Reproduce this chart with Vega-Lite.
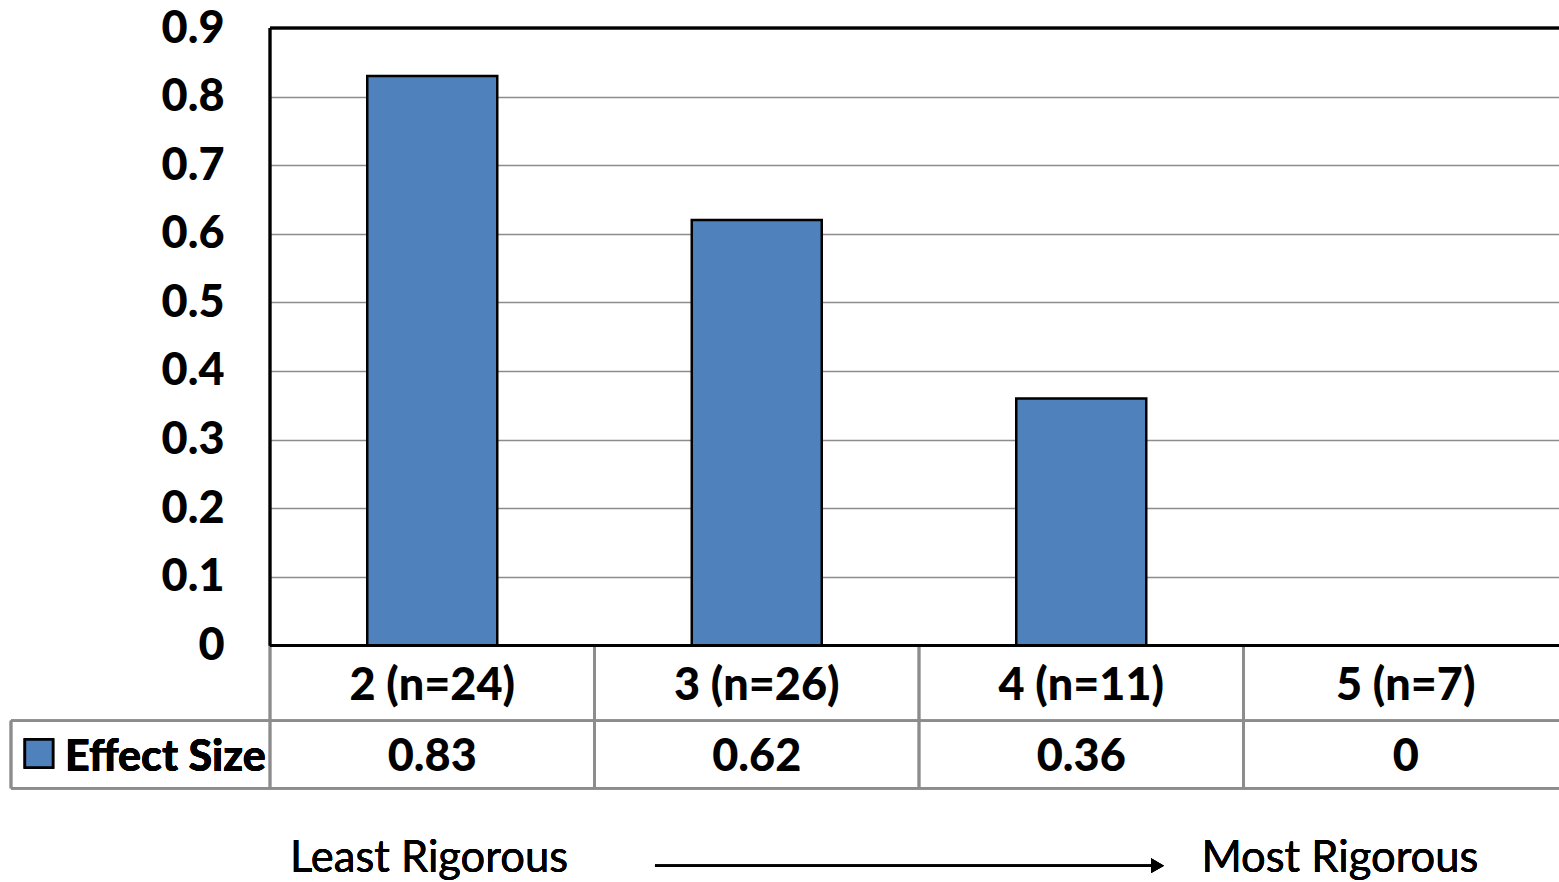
{
  "$schema": "https://vega.github.io/schema/vega-lite/v6.json",
  "width": 1289,
  "height": 854,
  "autosize": {"type": "none"},
  "padding": {"left": 270, "top": 28, "right": 0, "bottom": 0},
  "background": "white",
  "config": {"view": {"stroke": null}},
  "data": {"values": [
    {"level": 2, "label": "2 (n=24)", "effect": 0.83},
    {"level": 3, "label": "3 (n=26)", "effect": 0.62},
    {"level": 4, "label": "4 (n=11)", "effect": 0.36},
    {"level": 5, "label": "5 (n=7)", "effect": 0}
  ]},
  "encoding": {
    "x": {"field": "level", "type": "quantitative", "scale": {"domain": [1.5, 5.5], "range": [0, 1298], "nice": false, "zero": false, "padding": 0}, "axis": null},
    "y": {"field": "effect", "type": "quantitative",
      "scale": {"domain": [-0.3449, 0.9], "nice": false, "zero": false},
      "axis": {"values": [0, 0.1, 0.2, 0.3, 0.4, 0.5, 0.6, 0.7, 0.8, 0.9], "format": "~g", "title": null,
        "labelFont": "Lato", "labelFontSize": 45, "labelFontWeight": 900, "labelColor": "#000000",
        "labelPadding": 46, "labelOverlap": false, "labelBound": false, "ticks": false, "domain": false,
        "grid": true, "gridColor": "#8c8c8c", "gridWidth": 1.5}}
  },
  "layer": [
    {
      "transform": [{"filter": "datum.effect > 0"}],
      "mark": {"type": "bar", "width": 130, "fill": "#4f81bd", "stroke": "#000000", "strokeWidth": 2.5},
      "encoding": {"y2": {"datum": 0}}
    },
    {"mark": {"type": "rule", "color": "#8c8c8c", "strokeWidth": 2.5}, "encoding": {"x": {"datum": 0.7018}, "x2": {"datum": 5.5}, "y": {"datum": -0.1098}}},
    {"mark": {"type": "rule", "color": "#8c8c8c", "strokeWidth": 2.5}, "encoding": {"x": {"datum": 0.7018}, "x2": {"datum": 5.5}, "y": {"datum": -0.2083}}},
    {"mark": {"type": "rule", "color": "#8c8c8c", "strokeWidth": 2.5}, "encoding": {"x": {"datum": 0.7018}, "y": {"datum": -0.1098}, "y2": {"datum": -0.2083}}},
    {"mark": {"type": "rule", "color": "#8c8c8c", "strokeWidth": 2.5}, "encoding": {"x": {"datum": 1.5}, "y": {"datum": 0}, "y2": {"datum": -0.2083}}},
    {"mark": {"type": "rule", "color": "#8c8c8c", "strokeWidth": 2.5}, "encoding": {"x": {"datum": 2.5}, "y": {"datum": 0}, "y2": {"datum": -0.2083}}},
    {"mark": {"type": "rule", "color": "#8c8c8c", "strokeWidth": 2.5}, "encoding": {"x": {"datum": 3.5}, "y": {"datum": 0}, "y2": {"datum": -0.2083}}},
    {"mark": {"type": "rule", "color": "#8c8c8c", "strokeWidth": 2.5}, "encoding": {"x": {"datum": 4.5}, "y": {"datum": 0}, "y2": {"datum": -0.2083}}},
    {"mark": {"type": "rule", "color": "#000000", "strokeWidth": 2.5}, "encoding": {"x": {"datum": 1.5}, "x2": {"datum": 5.5}, "y": {"datum": 0.9}}},
    {"mark": {"type": "rule", "color": "#000000", "strokeWidth": 2.5}, "encoding": {"x": {"datum": 1.5}, "x2": {"datum": 5.5}, "y": {"datum": 0}}},
    {"mark": {"type": "rule", "color": "#000000", "strokeWidth": 2.5}, "encoding": {"x": {"datum": 1.5}, "y": {"datum": 0.9}, "y2": {"datum": 0}}},
    {
      "mark": {"type": "text", "font": "Lato", "fontSize": 45, "fontWeight": 900, "color": "#000000", "align": "center", "baseline": "alphabetic"},
      "encoding": {"y": {"datum": -0.0796}, "text": {"field": "label", "type": "nominal"}}
    },
    {
      "mark": {"type": "text", "font": "Lato", "fontSize": 45, "fontWeight": 900, "color": "#000000", "align": "center", "baseline": "alphabetic"},
      "encoding": {"y": {"datum": -0.1828}, "text": {"field": "effect", "type": "quantitative", "format": "~g"}}
    },
    {
      "mark": {"type": "square", "size": 784, "filled": true, "fill": "#4f81bd", "stroke": "#000000", "strokeWidth": 2.5, "opacity": 1},
      "encoding": {"x": {"datum": 0.788}, "y": {"datum": -0.1576}}
    },
    {
      "mark": {"type": "text", "text": "Effect Size", "font": "Lato", "fontSize": 43, "fontWeight": 900, "color": "#000000", "align": "left", "baseline": "alphabetic"},
      "encoding": {"x": {"datum": 0.8683}, "y": {"datum": -0.1828}}
    },
    {
      "mark": {"type": "text", "text": "Least Rigorous", "font": "Lato", "fontSize": 43.5, "color": "#000000", "align": "center", "baseline": "alphabetic"},
      "encoding": {"x": {"datum": 1.99}, "y": {"datum": -0.3302}}
    },
    {
      "mark": {"type": "text", "text": "Most Rigorous", "font": "Lato", "fontSize": 43.5, "color": "#000000", "align": "center", "baseline": "alphabetic"},
      "encoding": {"x": {"datum": 4.797}, "y": {"datum": -0.3302}}
    },
    {"mark": {"type": "rule", "color": "#000000", "strokeWidth": 2.5}, "encoding": {"x": {"datum": 2.6864}, "x2": {"datum": 4.218}, "y": {"datum": -0.3211}}},
    {
      "mark": {"type": "point", "shape": "triangle-right", "size": 220, "filled": true, "fill": "#000000", "opacity": 1},
      "encoding": {"x": {"datum": 4.235}, "y": {"datum": -0.3211}}
    }
  ]
}
